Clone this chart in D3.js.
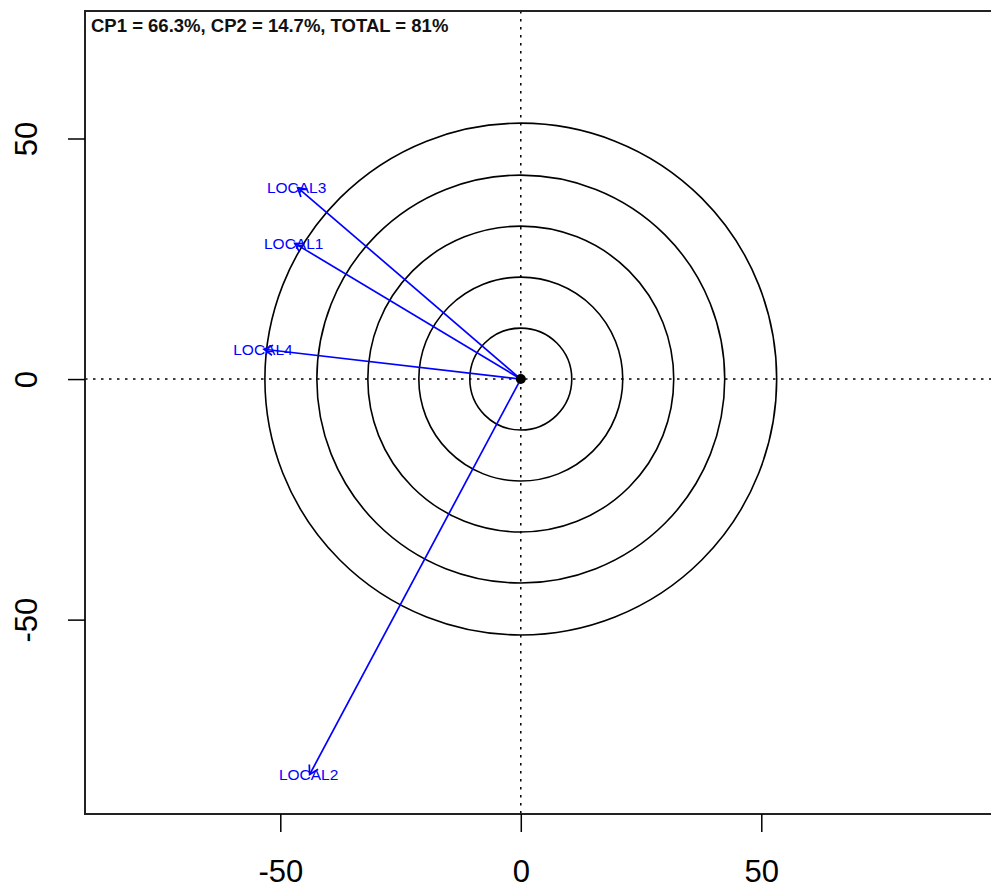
<!DOCTYPE html>
<html>
<head>
<meta charset="utf-8">
<script src="https://cdn.jsdelivr.net/npm/d3@7"></script>
<style>
  body { margin: 0; background: #fff; }
  text { font-family: "Liberation Sans", Arial, sans-serif; }
</style>
</head>
<body>
<svg id="chart" width="991" height="889"></svg>
<script>
// variables (arrow tips)
var varNames = ["LOCAL1", "LOCAL2", "LOCAL3", "LOCAL4"];
var cp1 = [-47.0, -43.9, -46.4, -53.4];
var cp2 = [28.2, -82.2, 39.8, 6.2];

// correlation circles
var radii = [10.6, 21.2, 31.8, 42.4, 53.2];

var xTicks = [-50, 0, 50];
var yTicks = [-50, 0, 50];
var title = "CP1 = 66.3%, CP2 = 14.7%, TOTAL = 81%";

var svg = d3.select("#chart");

// plot box; the right side runs past the picture
var boxLeft = 85, boxTop = 11, boxBottom = 814;
var unit = 4.81; // px per unit, same on both axes (asp = 1)

var x = d3.scaleLinear()
    .domain([-90.6, 100])
    .range([boxLeft, boxLeft + 190.6 * unit]);
var y = d3.scaleLinear()
    .domain([-90.4, 76.5])
    .range([boxBottom, boxTop]);

var boxRight = x(100);

// dotted axes through the origin
svg.append("line")
    .attr("x1", x(0)).attr("x2", x(0))
    .attr("y1", boxTop).attr("y2", boxBottom)
    .attr("stroke", "#000").attr("stroke-width", 1.5)
    .attr("stroke-dasharray", "2.5,5.5");
svg.append("line")
    .attr("x1", boxLeft).attr("x2", boxRight)
    .attr("y1", y(0)).attr("y2", y(0))
    .attr("stroke", "#000").attr("stroke-width", 1.5)
    .attr("stroke-dasharray", "2.5,5.5");

// circles
svg.selectAll(".ring")
    .data(radii)
    .enter().append("circle")
    .attr("class", "ring")
    .attr("cx", x(0))
    .attr("cy", y(0))
    .attr("r", function (d) { return x(d) - x(0); })
    .attr("fill", "none")
    .attr("stroke", "#000")
    .attr("stroke-width", 1.6);

// arrows
var vars = varNames.map(function (n, i) { return { name: n, x: cp1[i], y: cp2[i] }; });

var g = svg.append("g");
vars.forEach(function (d) {
    var x0 = x(0), y0 = y(0), x1 = x(d.x), y1 = y(d.y);
    g.append("line")
        .attr("x1", x0).attr("y1", y0)
        .attr("x2", x1).attr("y2", y1)
        .attr("stroke", "#0000ff").attr("stroke-width", 1.7);
    var a = Math.atan2(y1 - y0, x1 - x0);
    var len = 10, spread = Math.PI / 6;
    var p = [
        [x1 - len * Math.cos(a - spread), y1 - len * Math.sin(a - spread)],
        [x1, y1],
        [x1 - len * Math.cos(a + spread), y1 - len * Math.sin(a + spread)]
    ];
    g.append("path")
        .attr("d", d3.line()(p))
        .attr("fill", "none")
        .attr("stroke", "#0000ff").attr("stroke-width", 1.7);
});

// origin point
svg.append("circle")
    .attr("cx", x(0)).attr("cy", y(0)).attr("r", 5)
    .attr("fill", "#000");

// labels at tips
svg.selectAll(".lab")
    .data(vars)
    .enter().append("text")
    .attr("class", "lab")
    .attr("x", function (d) { return x(d.x) - 1; })
    .attr("y", function (d) { return y(d.y) + 5.5; })
    .attr("text-anchor", "middle")
    .attr("font-size", "15.5px")
    .attr("fill", "#0000ff")
    .text(function (d) { return d.name; });

// box
svg.append("path")
    .attr("d", "M" + (boxRight + 5) + "," + boxTop + "H" + boxLeft + "V" + boxBottom + "H" + (boxRight + 5))
    .attr("fill", "none")
    .attr("stroke", "#222")
    .attr("stroke-width", 2);

// x axis
var xAxis = svg.append("g").attr("transform", "translate(0," + boxBottom + ")")
    .call(d3.axisBottom(x).tickValues(xTicks).tickSize(18).tickPadding(28)
        .tickFormat(function (d) { return String(d); }));
xAxis.select(".domain").remove();
xAxis.selectAll("line").attr("stroke", "#000").attr("stroke-width", 1.5);
xAxis.selectAll("text")
    .attr("font-size", "31px").attr("fill", "#000")
    .attr("font-family", "Liberation Sans, Arial, sans-serif");

// y axis, labels parallel to the axis
var yAxis = svg.append("g").attr("transform", "translate(" + boxLeft + ",0)")
    .call(d3.axisLeft(y).tickValues(yTicks).tickSize(17)
        .tickFormat(function (d) { return String(d); }));
yAxis.select(".domain").remove();
yAxis.selectAll("line").attr("stroke", "#000").attr("stroke-width", 1.5);
yAxis.selectAll("text")
    .attr("x", null).attr("dy", null)
    .attr("transform", "translate(-48,0) rotate(-90)")
    .attr("text-anchor", "middle")
    .attr("font-size", "31px").attr("fill", "#000")
    .attr("font-family", "Liberation Sans, Arial, sans-serif");

// title inside the box
svg.append("text")
    .attr("x", 91).attr("y", 31.5)
    .attr("font-size", "18.5px")
    .attr("font-weight", "bold")
    .attr("fill", "#111")
    .text(title);
</script>
</body>
</html>
